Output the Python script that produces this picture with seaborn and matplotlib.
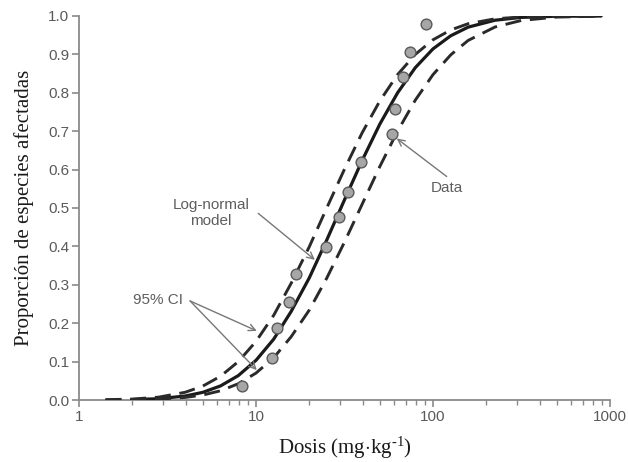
import numpy as np
import pandas as pd
import matplotlib
matplotlib.use("Agg")
import matplotlib.pyplot as plt
import seaborn as sns
from matplotlib.ticker import FixedLocator, FixedFormatter, LogLocator, NullFormatter

# ---- data ----
data_dose = [8.34, 12.3, 13.2, 15.3, 16.8, 24.8, 29.4, 33.2, 39.2, 58.4, 60.8, 67.4, 74.4, 91.0]
data_prop = [0.037, 0.110, 0.188, 0.254, 0.327, 0.399, 0.476, 0.541, 0.619, 0.692, 0.757, 0.842, 0.905, 0.979]

curve_dose = [1.41, 2.0, 2.82, 3.98, 5.01, 6.31, 7.94, 10.0, 12.6, 15.8, 20.0, 25.1,
              31.6, 39.8, 50.1, 63.1, 79.4, 100, 126, 158, 224, 316, 501, 891]
model_prop = [None, 0.001, 0.0034, 0.0103, 0.020, 0.0368, 0.0635, 0.1033, 0.1587, 0.2306, 0.318, 0.4166,
              0.521, 0.624, 0.7187, 0.800, 0.8654, 0.9144, 0.9486, 0.971, 0.989, 0.9964, 0.9993, 0.9999]
ci_upper = [0.0007, 0.0024, 0.0074, 0.0201, 0.0363, 0.062, 0.0999, 0.1525, 0.2209, 0.304, 0.399, 0.5,
            0.601, 0.696, 0.779, 0.8475, 0.900, 0.938, 0.9637, 0.9799, 0.9926, 0.9976, 0.9996, 1.0]
ci_lower = [0.0002, 0.0006, 0.0022, 0.0067, 0.013, 0.0241, 0.0423, 0.0701, 0.1103, 0.1648, 0.2342, 0.3174,
            0.411, 0.510, 0.6083, 0.7002, 0.7808, 0.8473, 0.8989, 0.9364, 0.9713, 0.9885, 0.9972, 0.9997]

x_ticks = [1, 10, 100, 1000]
x_ticklabels = ["1", "10", "100", "1000"]
y_ticks = [0.0, 0.1, 0.2, 0.3, 0.4, 0.5, 0.6, 0.7, 0.8, 0.9, 1.0]

sns.set_theme(style="ticks")
plt.rcParams["font.family"] = ["Liberation Sans", "DejaVu Sans"]
plt.rcParams["mathtext.fontset"] = "custom"
plt.rcParams["mathtext.rm"] = "Liberation Serif"
plt.rcParams["mathtext.it"] = "Liberation Serif:italic"
plt.rcParams["axes.unicode_minus"] = False

fig = plt.figure(figsize=(6.28, 4.62), dpi=100)
ax = fig.add_axes([79/628, (462-400)/462, (610-79)/628, (400-16)/462])

curves = pd.DataFrame({"dose": curve_dose, "model": model_prop,
                       "upper": ci_upper, "lower": ci_lower})
pts = pd.DataFrame({"dose": data_dose, "prop": data_prop})

line_col = "#1a1a1a"
sns.lineplot(data=curves.dropna(subset=["model"]), x="dose", y="model", ax=ax,
             color=line_col, lw=2.3, zorder=3)
sns.lineplot(data=curves, x="dose", y="upper", ax=ax, color="#2a2a2a", lw=2.1,
             linestyle=(0, (5.5, 3.0)), zorder=3)
sns.lineplot(data=curves, x="dose", y="lower", ax=ax, color="#2a2a2a", lw=2.1,
             linestyle=(0, (5.5, 3.0)), zorder=3)
sns.scatterplot(data=pts, x="dose", y="prop", ax=ax, s=60, color="#a6a6a6",
                edgecolor="#5a5a5a", linewidth=1.0, zorder=4)

ax.set_xscale("log")
ax.set_xlim(1, 1000)
ax.set_ylim(0, 1.0)

ax.xaxis.set_major_locator(FixedLocator(x_ticks))
ax.xaxis.set_major_formatter(FixedFormatter(x_ticklabels))
ax.xaxis.set_minor_locator(LogLocator(base=10, subs=np.arange(2, 10)))
ax.xaxis.set_minor_formatter(NullFormatter())
ax.set_yticks(y_ticks)
ax.set_yticklabels([f"{v:.1f}" for v in y_ticks])

spine_col = "#8a8a8a"
for s in ["top", "right"]:
    ax.spines[s].set_visible(False)
for s in ["left", "bottom"]:
    ax.spines[s].set_color(spine_col)
    ax.spines[s].set_linewidth(1.3)
ax.tick_params(axis="both", which="major", direction="out", length=5, width=1.2,
               color=spine_col, labelcolor="#5a5a5a", labelsize=11, pad=2)
ax.tick_params(axis="x", which="minor", direction="out", length=3.5, width=1.0,
               color=spine_col)

ax.set_xlabel("Dosis (mg$\\cdot$kg$^{\\mathregular{\u20101}}$)", family="Liberation Serif",
              fontsize=15, color="#1a1a1a", labelpad=8)
ax.set_ylabel("Proporción de especies afectadas", family="Liberation Serif",
              fontsize=15, color="#1a1a1a", labelpad=10)

ann_col = "#5e5e5e"
arrow_kw = dict(arrowstyle="->", color="#777777", lw=1.0, shrinkA=0, shrinkB=0)
ax.text(5.57, 0.487, "Log-normal\nmodel", ha="center", va="center", fontsize=11,
        color=ann_col, linespacing=1.15)
ax.annotate("", xy=(21.5, 0.365), xytext=(10.3, 0.486), arrowprops=arrow_kw)
ax.text(2.81, 0.26, "95% CI", ha="center", va="center", fontsize=11, color=ann_col)
ax.annotate("", xy=(10.1, 0.18), xytext=(4.24, 0.258), arrowprops=arrow_kw)
ax.annotate("", xy=(10.1, 0.078), xytext=(4.24, 0.258), arrowprops=arrow_kw)
ax.text(120, 0.552, "Data", ha="center", va="center", fontsize=11, color=ann_col)
ax.annotate("", xy=(62.4, 0.681), xytext=(119.5, 0.582), arrowprops=arrow_kw)

fig.savefig("out.png", dpi=100, facecolor="white")
